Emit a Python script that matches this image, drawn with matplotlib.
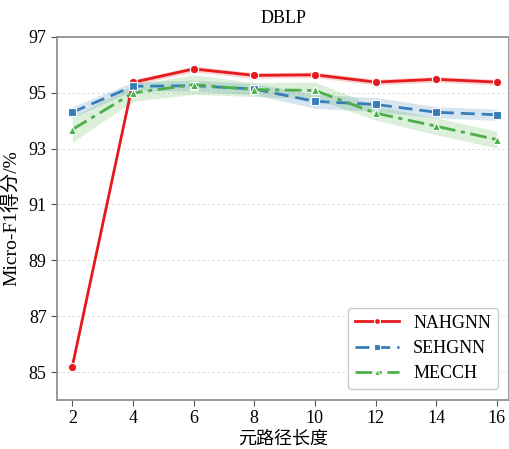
import matplotlib
matplotlib.use("Agg")
import matplotlib.pyplot as plt
import numpy as np

plt.rcParams['font.family'] = ['Liberation Serif', 'Noto Sans CJK SC']
plt.rcParams['axes.unicode_minus'] = False

path_len = [2, 4, 6, 8, 10, 12, 14, 16]
nahgnn = [85.2, 95.37, 95.85, 95.62, 95.64, 95.38, 95.48, 95.38]
nahgnn_err = [0.12, 0.1, 0.1, 0.1, 0.1, 0.1, 0.1, 0.1]
sehgnn = [94.30, 95.23, 95.25, 95.13, 94.69, 94.58, 94.30, 94.21]
sehgnn_err = [0.2, 0.15, 0.2, 0.2, 0.25, 0.25, 0.2, 0.2]
mecch = [93.68, 94.99, 95.29, 95.11, 95.08, 94.27, 93.80, 93.32]
mecch_err = [0.45, 0.3, 0.35, 0.25, 0.3, 0.25, 0.3, 0.3]

yticks = [85, 87, 89, 91, 93, 95, 97]
xticks = [2, 4, 6, 8, 10, 12, 14, 16]

fig = plt.figure(figsize=(5.1, 4.49), dpi=100)
ax = fig.add_axes([0.112, 0.109, 0.886, 0.809])

series = [
    ("NAHGNN", nahgnn, nahgnn_err, "#e41a1c", "-", "o", 6),
    ("SEHGNN", sehgnn, sehgnn_err, "#377eb8", (0, (5, 2.5)), "s", 6),
    ("MECCH", mecch, mecch_err, "#4daf4a", (0, (6, 2, 1.5, 2)), "^", 6),
]
for name, vals, err, c, ls, mk, ms in series:
    v = np.array(vals); e = np.array(err)
    ax.fill_between(path_len, v - e, v + e, color=c, alpha=0.2, lw=0)
    ax.plot(path_len, vals, color=c, ls=ls, lw=2, marker=mk, ms=ms,
            mec="white", mew=0.8, label=name)

ax.set_xlim(1.5, 16.4)
ax.set_ylim(84, 97)
ax.set_xticks(xticks)
ax.set_yticks(yticks)
ax.tick_params(labelsize=13, length=4, color="#555555")
ax.yaxis.grid(True, ls=(0, (3, 3)), lw=0.6, color="#d5d5d5")
ax.set_axisbelow(True)
for s in ax.spines.values():
    s.set_color("#888888")
    s.set_linewidth(1.2)

ax.set_xlabel("元路径长度", fontsize=13, labelpad=2)
ax.set_ylabel("Micro-F1得分/%", fontsize=14, labelpad=6)
ax.set_title("DBLP", fontsize=13, pad=10)
ax.legend(loc="lower right", fontsize=13, frameon=True, framealpha=1,
          edgecolor="#cccccc", handlelength=2.4, markerscale=0.7,
          borderaxespad=0.6, labelspacing=0.45)

fig.savefig("out.png", dpi=100)
